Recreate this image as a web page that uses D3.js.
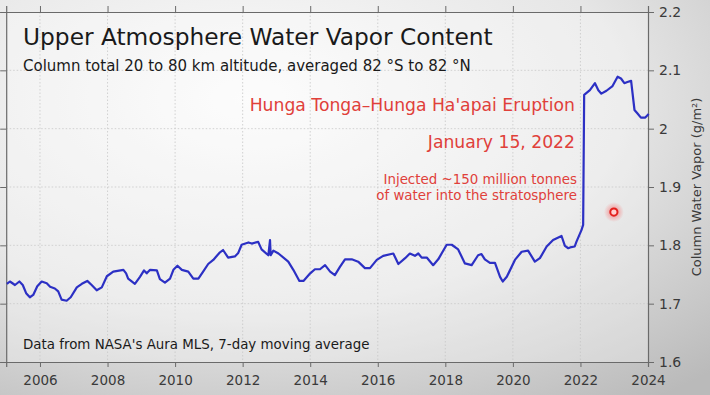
<!DOCTYPE html>
<html><head><meta charset="utf-8">
<script src="https://cdn.jsdelivr.net/npm/d3@7"></script>
<style>html,body{margin:0;padding:0;background:#e6e6e6;}svg{display:block;}</style>
</head><body>
<svg id="chart" width="710" height="395"></svg>
<script>
const years = [2005.02,2005.11,2005.26,2005.39,2005.49,2005.59,2005.70,2005.80,2005.92,2006.05,2006.20,2006.30,2006.44,2006.54,2006.64,2006.79,2006.91,2007.09,2007.24,2007.40,2007.53,2007.68,2007.83,2007.98,2008.17,2008.47,2008.55,2008.61,2008.81,2008.96,2009.08,2009.16,2009.26,2009.46,2009.55,2009.70,2009.85,2009.95,2010.07,2010.20,2010.39,2010.54,2010.69,2010.83,2010.98,2011.13,2011.31,2011.42,2011.57,2011.77,2011.87,2011.97,2012.17,2012.27,2012.46,2012.56,2012.76,2012.81,2012.83,2012.91,2013.06,2013.35,2013.50,2013.68,2013.80,2014.00,2014.14,2014.29,2014.44,2014.59,2014.73,2014.88,2015.03,2015.23,2015.42,2015.62,2015.77,2015.97,2016.16,2016.46,2016.61,2016.81,2016.95,2017.10,2017.20,2017.30,2017.45,2017.64,2017.79,2018.04,2018.19,2018.38,2018.58,2018.78,2018.97,2019.07,2019.17,2019.32,2019.47,2019.62,2019.70,2019.82,2020.06,2020.26,2020.45,2020.65,2020.80,2021.00,2021.19,2021.44,2021.54,2021.64,2021.73,2021.83,2021.88,2022.03,2022.08,2022.11,2022.28,2022.43,2022.53,2022.62,2022.77,2022.95,2023.10,2023.20,2023.30,2023.39,2023.50,2023.60,2023.69,2023.79,2023.92,2024.02];
const vapor = [1.734,1.738,1.732,1.738,1.732,1.718,1.711,1.715,1.730,1.738,1.735,1.729,1.726,1.721,1.707,1.705,1.711,1.728,1.734,1.739,1.732,1.723,1.728,1.747,1.755,1.758,1.752,1.743,1.734,1.746,1.757,1.752,1.758,1.757,1.742,1.736,1.743,1.758,1.765,1.758,1.755,1.743,1.743,1.755,1.768,1.775,1.787,1.792,1.779,1.781,1.787,1.801,1.805,1.803,1.806,1.793,1.783,1.809,1.783,1.791,1.786,1.772,1.758,1.739,1.739,1.752,1.759,1.759,1.766,1.755,1.749,1.763,1.776,1.776,1.772,1.761,1.761,1.775,1.782,1.786,1.768,1.778,1.786,1.782,1.786,1.779,1.779,1.766,1.776,1.801,1.801,1.793,1.769,1.766,1.783,1.785,1.776,1.770,1.770,1.746,1.738,1.746,1.775,1.789,1.791,1.772,1.778,1.798,1.809,1.816,1.799,1.795,1.797,1.798,1.806,1.826,1.835,2.058,2.066,2.078,2.066,2.060,2.065,2.073,2.089,2.086,2.078,2.080,2.082,2.032,2.026,2.019,2.019,2.025];
const xTicks = [2006,2008,2010,2012,2014,2016,2018,2020,2022,2024];
const yTicks = [1.6,1.7,1.8,1.9,2.0,2.1,2.2];
const yTickLabels = ["1.6","1.7","1.8","1.9","2","2.1","2.2"];
const title = "Upper Atmosphere Water Vapor Content";
const subtitle = "Column total 20 to 80 km altitude, averaged 82 °S to 82 °N";
const eventLines = ["Hunga Tonga–Hunga Ha'apai Eruption","January 15, 2022"];
const noteLines = ["Injected ~150 million tonnes","of water into the stratosphere"];
const sourceNote = "Data from NASA's Aura MLS, 7-day moving average";
const yLabel = "Column Water Vapor (g/m²)";
const markerPoint = [2022.99, 1.857];

const svg = d3.select("#chart");
const L = 6.2, R = 648, T = 12, B = 362;
const x = d3.scaleLinear().domain([2005, 2024]).range([L, R]);
const y = d3.scaleLinear().domain([1.6, 2.2]).range([B, T]);
const font = "DejaVu Sans, sans-serif";

const defs = svg.append("defs");
const bg = defs.append("radialGradient").attr("id","bg").attr("cx","0.35").attr("cy","0.25").attr("r","0.95");
bg.append("stop").attr("offset","0").attr("stop-color","#fbfbfb");
bg.append("stop").attr("offset","0.55").attr("stop-color","#e6e6e6");
bg.append("stop").attr("offset","1").attr("stop-color","#bababa");
const glow = defs.append("radialGradient").attr("id","glow");
glow.append("stop").attr("offset","0").attr("stop-color","#ff3030").attr("stop-opacity",0.55);
glow.append("stop").attr("offset","1").attr("stop-color","#ff3030").attr("stop-opacity",0);

svg.append("rect").attr("width",710).attr("height",395).attr("fill","url(#bg)");
svg.append("rect").attr("x",L).attr("y",T).attr("width",R-L).attr("height",B-T)
  .attr("fill","#ffffff").attr("opacity",0.3);

// grid
const g = svg.append("g");
g.selectAll(".vg").data(xTicks.filter(d => d < 2024)).join("line")
  .attr("x1", d => x(d)).attr("x2", d => x(d)).attr("y1", T).attr("y2", B)
  .attr("stroke","#c8c8c8").attr("stroke-width",0.8).attr("stroke-dasharray","1.5,2");
g.selectAll(".hg").data(yTicks.filter(d => d > 1.6 && d < 2.2)).join("line")
  .attr("x1", L).attr("x2", R).attr("y1", d => y(d)).attr("y2", d => y(d))
  .attr("stroke","#c8c8c8").attr("stroke-width",0.8).attr("stroke-dasharray","1.5,2");

// axes
const xAxis = d3.axisBottom(x).tickValues(xTicks).tickFormat(d3.format("d")).tickSize(5).tickPadding(8);
const xa = svg.append("g").attr("transform",`translate(0,${B})`).call(xAxis);
const xTop = d3.axisTop(x).tickValues(xTicks).tickFormat("").tickSize(6);
const xt = svg.append("g").attr("transform",`translate(0,${T})`).call(xTop);
const yAxis = d3.axisRight(y).tickValues(yTicks).tickFormat((d,i) => yTickLabels[i]).tickSize(6).tickPadding(5);
const ya = svg.append("g").attr("transform",`translate(${R},0)`).call(yAxis);
const yLeft = d3.axisLeft(y).tickValues(yTicks).tickFormat("").tickSize(6);
const yl = svg.append("g").attr("transform",`translate(${L},0)`).call(yLeft);
[xa,xt,ya,yl].forEach(a => {
  a.select(".domain").attr("stroke","#6a6a6a").attr("stroke-width",1.2);
  a.selectAll(".tick line").attr("stroke","#6a6a6a").attr("stroke-width",1);
  a.selectAll("text").attr("font-family",font).attr("font-size",14).attr("fill","#3a3a3a");
});
xa.selectAll("text").attr("font-size",13.5);

// line
svg.append("path").datum(years.map((d,i)=>[d,vapor[i]]))
  .attr("d", d3.line().x(d=>x(d[0])).y(d=>y(d[1])))
  .attr("fill","none").attr("stroke","#2c30c4").attr("stroke-width",2.2)
  .attr("stroke-linejoin","round");

// marker
svg.append("circle").attr("cx",x(markerPoint[0])).attr("cy",y(markerPoint[1])).attr("r",10).attr("fill","url(#glow)");
svg.append("circle").attr("cx",x(markerPoint[0])).attr("cy",y(markerPoint[1])).attr("r",3.6)
  .attr("fill","#ffd0d0").attr("stroke","#e3201e").attr("stroke-width",2);

// texts
svg.append("text").attr("x",23).attr("y",45).attr("font-family",font).attr("font-size",23.3).attr("fill","#1a1a1a").text(title);
svg.append("text").attr("x",23).attr("y",71).attr("font-family",font).attr("font-size",15).attr("fill","#1a1a1a").text(subtitle);
svg.append("text").attr("x",575).attr("y",111).attr("text-anchor","end").attr("font-family",font).attr("font-size",17.2).attr("fill","#e0403a").text(eventLines[0]);
svg.append("text").attr("x",575).attr("y",148).attr("text-anchor","end").attr("font-family",font).attr("font-size",17.2).attr("fill","#e0403a").text(eventLines[1]);
noteLines.forEach((t,i) => svg.append("text").attr("x",577).attr("y",184+i*16).attr("text-anchor","end")
  .attr("font-family",font).attr("font-size",13.4).attr("fill","#e0403a").text(t));
svg.append("text").attr("x",23).attr("y",349).attr("font-family",font).attr("font-size",13.4).attr("fill","#1a1a1a").text(sourceNote);
svg.append("text").attr("transform","translate(701,187) rotate(-90)").attr("text-anchor","middle")
  .attr("font-family",font).attr("font-size",13).attr("fill","#3a3a3a").text(yLabel);
</script>
</body></html>
